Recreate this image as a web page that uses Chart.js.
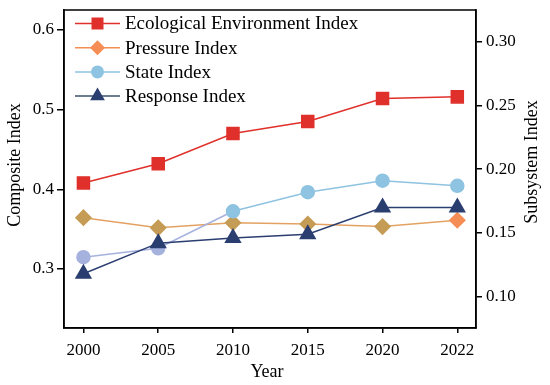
<!DOCTYPE html>
<html><head><meta charset="utf-8">
<script src="https://cdn.jsdelivr.net/npm/chart.js@4/dist/chart.umd.min.js"></script>
<style>html,body{margin:0;padding:0;background:#fff}</style>
</head><body>
<canvas id="c" width="550" height="385"></canvas>
<script>
const years = ['2000','2005','2010','2015','2020','2022'];
const ecological = [0.408, 0.432, 0.470, 0.485, 0.514, 0.516];
const pressure   = [0.162, 0.154, 0.158, 0.157, 0.155, 0.160];
const state      = [0.131, 0.138, 0.167, 0.182, 0.191, 0.187];
const response   = [0.118, 0.142, 0.146, 0.149, 0.170, 0.170];
const compositeTicks = [0.3, 0.4, 0.5, 0.6];
const subsystemTicks = [0.10, 0.15, 0.20, 0.25, 0.30];
const leftTitle = 'Composite Index';
const rightTitle = 'Subsystem Index';
const xTitle = 'Year';

const FONT = '"Liberation Serif", "Times New Roman", serif';
const toPts = arr => arr.map((v, i) => ({x: i, y: v}));

const RED = '#E0302B', ORANGE = '#F58D55', KHAKI = '#C59C55', BLUE = '#8EC3E1', LAV = '#A6B2DE', NAVY = '#2B3E70';

const datasets = [
  {label: 'Ecological Environment Index', data: toPts(ecological), yAxisID: 'y',
   borderColor: RED, backgroundColor: RED, pointBackgroundColor: RED, pointBorderColor: RED,
   pointStyle: 'rect', pointRadius: 8.5, borderWidth: 1.5, order: 3, legendColor: RED},
  {label: 'Pressure Index', data: toPts(pressure), yAxisID: 'y1',
   borderColor: '#E3A263', backgroundColor: ORANGE,
   pointBackgroundColor: [KHAKI, KHAKI, KHAKI, KHAKI, KHAKI, ORANGE],
   pointBorderColor: [KHAKI, KHAKI, KHAKI, KHAKI, KHAKI, ORANGE],
   pointStyle: 'rectRot', pointRadius: 7.5, borderWidth: 1.5, order: 2, legendColor: ORANGE, legendLine: ORANGE},
  {label: 'State Index', data: toPts(state), yAxisID: 'y1',
   borderColor: BLUE, backgroundColor: BLUE,
   pointBackgroundColor: [LAV, LAV, BLUE, BLUE, BLUE, BLUE],
   pointBorderColor: [LAV, LAV, BLUE, BLUE, BLUE, BLUE],
   segment: {borderColor: ctx => ctx.p0DataIndex < 2 ? LAV : BLUE},
   pointStyle: 'circle', pointRadius: 6.5, borderWidth: 1.5, order: 1, legendColor: BLUE},
  {label: 'Response Index', data: toPts(response), yAxisID: 'y1',
   borderColor: NAVY, backgroundColor: NAVY, pointBackgroundColor: NAVY, pointBorderColor: NAVY,
   pointStyle: 'triangle', pointRadius: 8.5, borderWidth: 1.5, order: 0, legendColor: NAVY, legendLine: '#3A5068'}
];

const customLegend = {
  id: 'customLegend',
  afterDraw(chart) {
    const ctx = chart.ctx;
    ctx.save();
    ctx.font = '19px ' + FONT;
    ctx.textBaseline = 'middle';
    ctx.textAlign = 'left';
    chart.data.datasets.forEach((ds, i) => {
      const y = 23.5 + i * 24.2;
      const cx = 97.5;
      ctx.strokeStyle = ds.legendLine || ds.legendColor;
      ctx.lineWidth = 1.5;
      ctx.beginPath(); ctx.moveTo(75, y); ctx.lineTo(120, y); ctx.stroke();
      ctx.fillStyle = ds.legendColor;
      ctx.beginPath();
      if (ds.pointStyle === 'rect') {
        const s = 6; ctx.rect(cx - s, y - s, 2*s, 2*s);
      } else if (ds.pointStyle === 'rectRot') {
        const r = 7.5; ctx.moveTo(cx, y - r); ctx.lineTo(cx + r, y); ctx.lineTo(cx, y + r); ctx.lineTo(cx - r, y); ctx.closePath();
      } else if (ds.pointStyle === 'circle') {
        ctx.arc(cx, y, 6.5, 0, Math.PI*2);
      } else {
        const r = 8.5; ctx.moveTo(cx, y - r); ctx.lineTo(cx + r*0.866, y + r*0.5); ctx.lineTo(cx - r*0.866, y + r*0.5); ctx.closePath();
      }
      ctx.fill();
      ctx.fillStyle = '#000';
      ctx.fillText(ds.label, 125, y + 1);
    });
    // frame
    const a = chart.chartArea;
    ctx.strokeStyle = '#000'; ctx.lineWidth = 1.5;
    ctx.strokeRect(a.left, a.top, a.right - a.left, a.bottom - a.top);
    // axis titles (both read bottom-to-top)
    ctx.font = '18px ' + FONT;
    ctx.fillStyle = '#000';
    ctx.textAlign = 'center';
    ctx.textBaseline = 'middle';
    ctx.save(); ctx.translate(15.5, 165); ctx.rotate(-Math.PI/2); ctx.fillText(leftTitle, 0, 0); ctx.restore();
    ctx.save(); ctx.translate(532, 162); ctx.rotate(-Math.PI/2); ctx.fillText(rightTitle, 0, 0); ctx.restore();
    ctx.fillText(xTitle, (a.left + a.right) / 2 - 3, 372);
    ctx.restore();
  }
};

const tickFont = {family: FONT, size: 17};

new Chart(document.getElementById('c'), {
  type: 'line',
  data: {datasets},
  options: {
    responsive: false,
    animation: false,
    layout: {padding: {top: 10, left: 0, right: 0, bottom: 0}},
    plugins: {legend: {display: false}, tooltip: {enabled: false}},
    scales: {
      x: {
        type: 'linear', min: -0.26, max: 5.25,
        afterBuildTicks: ax => { ax.ticks = years.map((_, i) => ({value: i})); },
        afterFit: ax => { ax.height = 57; ax.paddingLeft = 0; ax.paddingRight = 0; },
        ticks: {font: tickFont, color: '#000', padding: 7, maxRotation: 0, autoSkip: false,
                callback: v => years[v]},
        grid: {display: true, drawOnChartArea: false, drawTicks: true, tickLength: 5, color: '#000', lineWidth: 1.5},
        border: {display: true, color: '#000', width: 1.5}
      },
      y: {
        type: 'linear', position: 'left', min: 0.226, max: 0.625,
        afterBuildTicks: ax => { ax.ticks = compositeTicks.map(v => ({value: v})); },
        afterFit: ax => { ax.width = 64; ax.paddingTop = 0; ax.paddingBottom = 0; },
        ticks: {font: tickFont, color: '#000', padding: 3, callback: v => v.toFixed(1)},
        grid: {display: true, drawOnChartArea: false, drawTicks: true, tickLength: 7, color: '#000', lineWidth: 1.5},
        border: {display: true, color: '#000', width: 1.5}
      },
      y1: {
        type: 'linear', position: 'right', min: 0.0755, max: 0.3248,
        afterBuildTicks: ax => { ax.ticks = subsystemTicks.map(v => ({value: v})); },
        afterFit: ax => { ax.width = 74; ax.paddingTop = 0; ax.paddingBottom = 0; },
        ticks: {font: tickFont, color: '#000', padding: 4, callback: v => v.toFixed(2)},
        grid: {display: true, drawOnChartArea: false, drawTicks: true, tickLength: 6, color: '#000', lineWidth: 1.5},
        border: {display: true, color: '#000', width: 1.5}
      }
    }
  },
  plugins: [customLegend]
});
</script>
</body></html>
